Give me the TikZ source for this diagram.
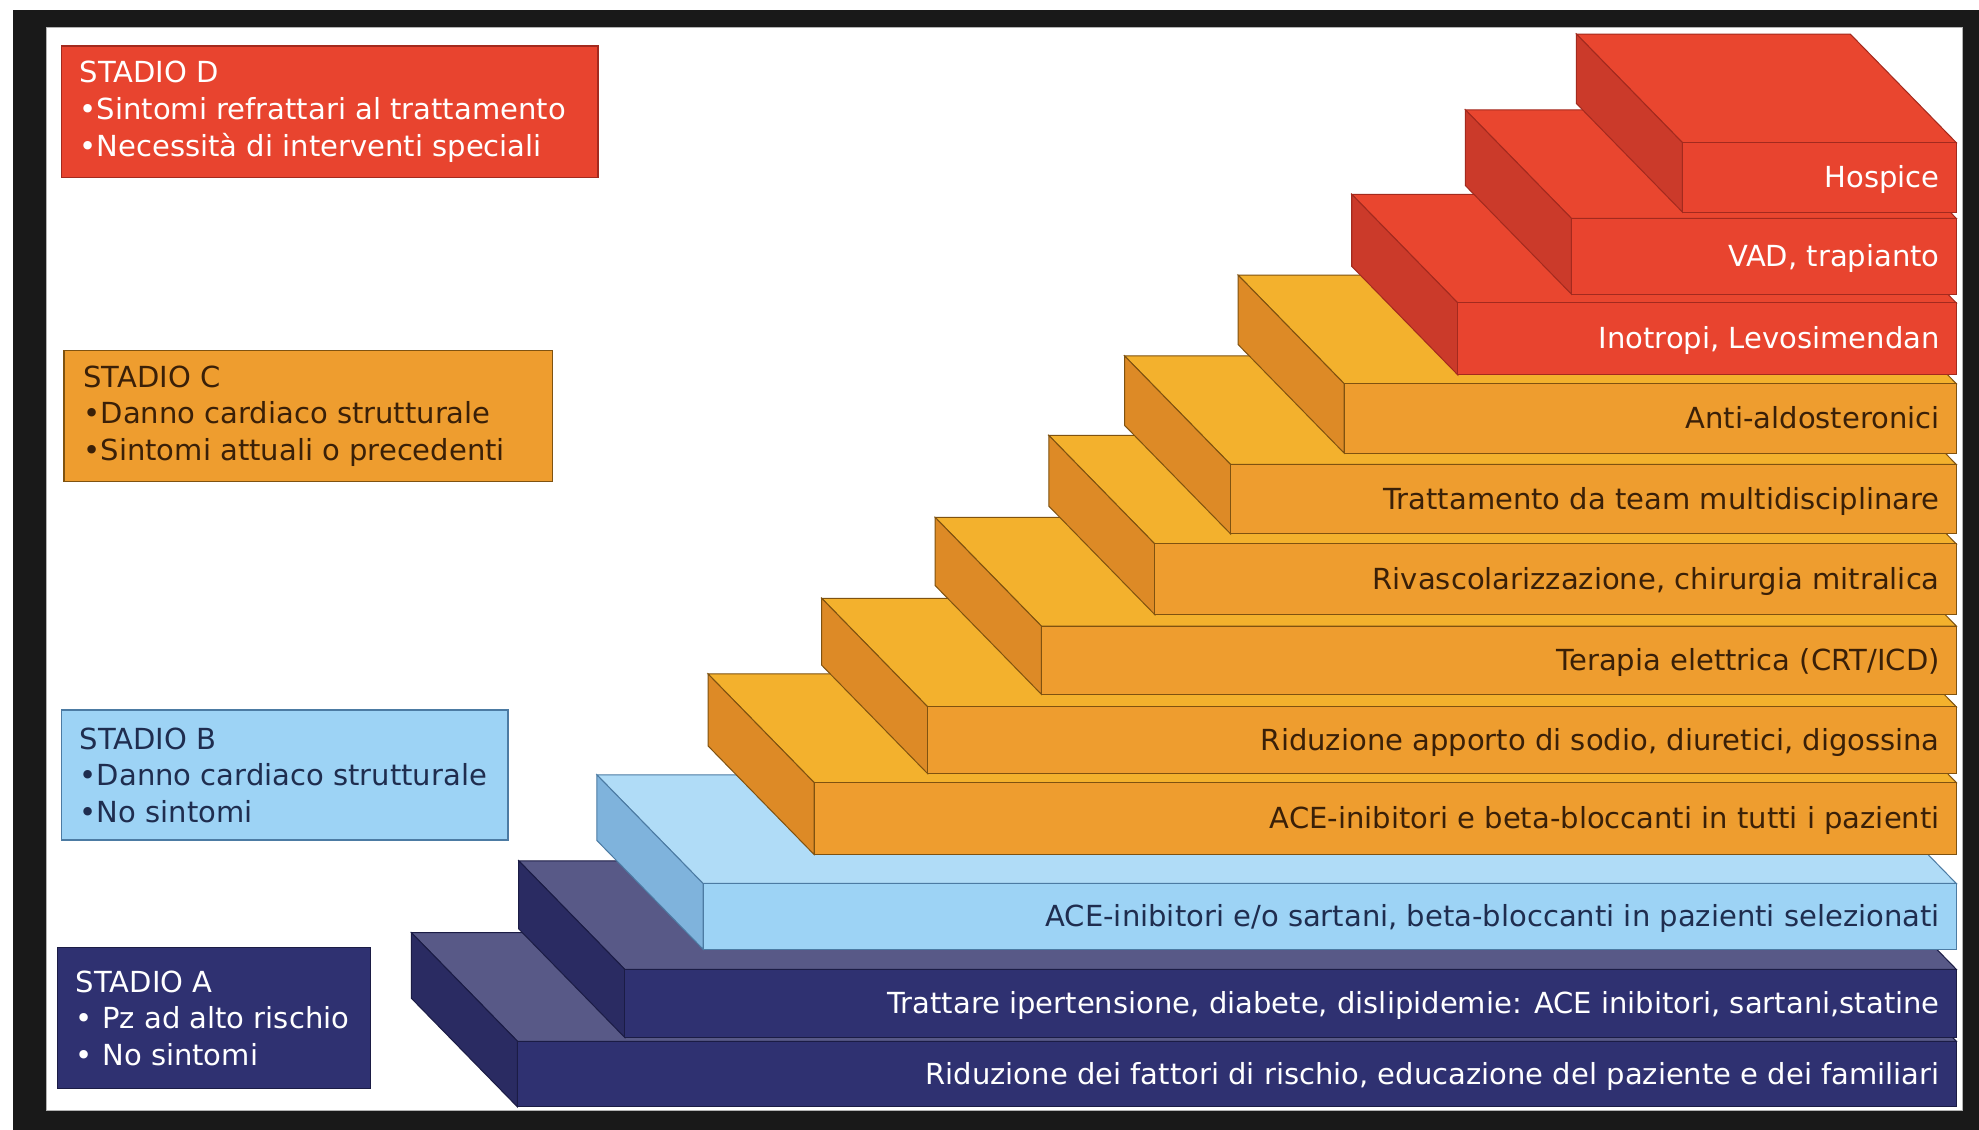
\documentclass[tikz,border=0pt]{standalone}
\usepackage{fontspec}
\setmainfont{DejaVu Sans}

\definecolor{redfront}{HTML}{E8442F}
\definecolor{redtop}{HTML}{E9462F}
\definecolor{redside}{HTML}{CB3A2A}
\definecolor{rededge}{HTML}{A32A1E}
\definecolor{orgfront}{HTML}{EE9D2F}
\definecolor{orgtop}{HTML}{F3B12D}
\definecolor{orgside}{HTML}{DD8A26}
\definecolor{orgedge}{HTML}{7F5210}
\definecolor{lbfront}{HTML}{9DD3F5}
\definecolor{lbtop}{HTML}{B0DCF7}
\definecolor{lbside}{HTML}{7FB3DC}
\definecolor{lbedge}{HTML}{4C7BA3}
\definecolor{navyfront}{HTML}{2F3171}
\definecolor{navytop}{HTML}{585987}
\definecolor{navyside}{HTML}{2A2B62}
\definecolor{navyedge}{HTML}{1B1C45}
\definecolor{orgtext}{HTML}{3A2008}
\definecolor{lbtext}{HTML}{1F2D4F}

\tikzset{
  steptext/.style={anchor=base east, inner sep=0pt, font=\fontsize{23}{27}\selectfont},
  stagebox/.style={anchor=north west, inner sep=0pt, line width=1.2pt},
  stagetext/.style={anchor=west, align=left, inner sep=0pt, font=\fontsize{23}{29}\selectfont},
}

% one step: left x, top y, bottom y, palette, text colour, name, label
\newcommand{\stair}[7]{%
  \filldraw[fill=#4top, draw=#4edge, line width=0.8pt] (#1,#2) -- (1550,#2) -- (1466,#2-86) -- (#1-84,#2-86) -- cycle;
  \filldraw[fill=#4side, draw=#4edge, line width=0.8pt] (#1,#2) -- (#1,#3) -- (#1-84,#3-86) -- (#1-84,#2-86) -- cycle;
  \filldraw[fill=#4front, draw=#4edge, line width=0.8pt] (#1,#2) rectangle (1550,#3);
  \node[steptext, text=#5] (#6) at (1537,{(#2+#3)/2+8}) {#7};
}

\begin{document}
\begin{tikzpicture}[x=1pt, y=-1pt]
\useasboundingbox[fill=white] (0,0) rectangle (1568,895);
% frame
\fill[black!90] (10,8) rectangle (1568,895);
\fill[white] (37,22) rectangle (1555,880);
\draw[gray!60, line width=1pt] (37,22) rectangle (1555,880);

% staircase, bottom to top
\stair{410}{825}{877}{navy}{white}{riduzione}{Riduzione dei fattori di rischio, educazione del paziente e dei familiari}
\stair{495}{768}{822}{navy}{white}{trattare}{Trattare ipertensione, diabete, dislipidemie: ACE inibitori, sartani,statine}
\stair{557}{700}{752}{lb}{lbtext}{acesartani}{ACE-inibitori e/o sartani, beta-bloccanti in pazienti selezionati}
\stair{645}{620}{677}{org}{orgtext}{acebeta}{ACE-inibitori e beta-bloccanti in tutti i pazienti}
\stair{735}{560}{613}{org}{orgtext}{sodio}{Riduzione apporto di sodio, diuretici, digossina}
\stair{825}{496}{550}{org}{orgtext}{crt}{Terapia elettrica (CRT/ICD)}
\stair{915}{431}{487}{org}{orgtext}{rivasc}{Rivascolarizzazione, chirurgia mitralica}
\stair{975}{368}{423}{org}{orgtext}{team}{Trattamento da team multidisciplinare}
\stair{1065}{304}{359}{org}{orgtext}{antialdo}{Anti-aldosteronici}
\stair{1155}{240}{297}{red}{white}{inotropi}{Inotropi, Levosimendan}
\stair{1245}{173}{233}{red}{white}{vad}{VAD, trapianto}
\stair{1333}{113}{168}{red}{white}{hospice}{Hospice}

% stage boxes
\node[stagebox, fill=redfront, draw=rededge, minimum width=425pt, minimum height=104pt] (boxD) at (48,36) {};
\node[stagetext, text=white] (stadioD) at ([xshift=15pt]boxD.west) {STADIO D\\•Sintomi refrattari al trattamento\\•Necessità di interventi speciali};

\node[stagebox, fill=orgfront, draw=orgedge, minimum width=387pt, minimum height=104pt] (boxC) at (50,277) {};
\node[stagetext, text=orgtext] (stadioC) at ([xshift=16pt]boxC.west) {STADIO C\\•Danno cardiaco strutturale\\•Sintomi attuali o precedenti};

\node[stagebox, fill=lbfront, draw=lbedge, minimum width=354pt, minimum height=103pt] (boxB) at (48,562) {};
\node[stagetext, text=lbtext] (stadioB) at ([xshift=15pt]boxB.west) {STADIO B\\•Danno cardiaco strutturale\\•No sintomi};

\node[stagebox, fill=navyfront, draw=navyedge, minimum width=248pt, minimum height=112pt] (boxA) at (45,750) {};
\node[stagetext, text=white] (stadioA) at ([xshift=15pt]boxA.west) {STADIO A\\• Pz ad alto rischio\\• No sintomi};
\end{tikzpicture}
\end{document}
